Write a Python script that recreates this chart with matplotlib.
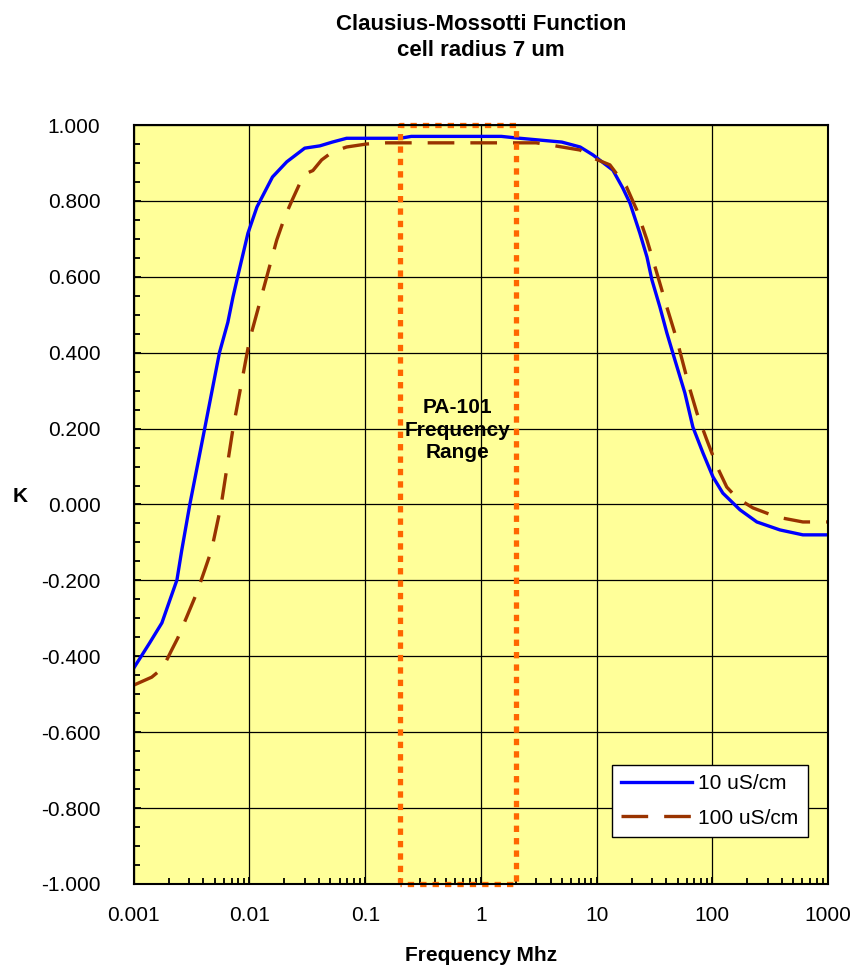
import math
import matplotlib.pyplot as plt
from matplotlib.ticker import FixedLocator, MultipleLocator, FuncFormatter, NullFormatter

plt.rcParams['font.family'] = ['Liberation Sans', 'DejaVu Sans']

# frequency (MHz) and K for 10 uS/cm
freq_10 = [0.001, 0.00137, 0.00175, 0.00205, 0.00236, 0.0026, 0.00305, 0.0041, 0.0055,
           0.0065, 0.0072, 0.0079, 0.0097, 0.0116, 0.0158, 0.021, 0.030, 0.0405, 0.052,
           0.069, 0.2, 0.25, 1.5, 2.0, 5.0, 7.2, 9.3, 13.8, 16.8, 19.4, 23.6, 27.2, 30,
           35.2, 40.4, 47.4, 57.8, 67.8, 82.8, 101, 123, 173, 242, 383, 605, 1000]
k_10 = [-0.431, -0.365, -0.312, -0.252, -0.199, -0.12, 0.0, 0.2, 0.4,
        0.48, 0.547, 0.6, 0.715, 0.784, 0.863, 0.903, 0.939, 0.945, 0.955,
        0.965, 0.965, 0.970, 0.970, 0.966, 0.955, 0.942, 0.921, 0.881, 0.834, 0.794,
        0.715, 0.652, 0.592, 0.52, 0.452, 0.381, 0.294, 0.204, 0.136, 0.073, 0.030,
        -0.014, -0.046, -0.067, -0.080, -0.080]

# frequency (MHz) and K for 100 uS/cm
freq_100 = [0.001, 0.00143, 0.00178, 0.00213, 0.0024, 0.00287, 0.0035, 0.0041, 0.0047,
            0.0057, 0.0072, 0.0100, 0.0116, 0.0141, 0.0172, 0.0202, 0.0232, 0.0272,
            0.0313, 0.0353, 0.042, 0.052, 0.069, 0.103, 0.153, 3.0, 4.0, 7.2, 9.3, 13.0,
            18.1, 22.2, 27.2, 33.1, 40.4, 49.4, 63, 73.5, 89.5, 110, 133, 163, 224, 361,
            605, 1000]
k_100 = [-0.476, -0.455, -0.431, -0.383, -0.352, -0.296, -0.233, -0.173, -0.12,
         0.0, 0.2, 0.433, 0.505, 0.6, 0.697, 0.758, 0.80, 0.846,
         0.873, 0.88, 0.908, 0.929, 0.942, 0.95, 0.953, 0.953, 0.947, 0.934, 0.913, 0.895,
         0.837, 0.776, 0.697, 0.61, 0.52, 0.433, 0.31, 0.241, 0.17, 0.099, 0.046, 0.017,
         -0.009, -0.033, -0.046, -0.046]

# PA-101 frequency range (MHz)
range_lo, range_hi = 0.2, 2.0

x_ticks = [0.001, 0.01, 0.1, 1, 10, 100, 1000]
x_tick_labels = ['0.001', '0.01', '0.1', '1', '10', '100', '1000']

fig = plt.figure(figsize=(8.52, 9.66), dpi=100)
ax = fig.add_axes([0.157, 0.0849, 0.815, 0.7857])
ax.set_facecolor('#FFFF99')

ax.plot(freq_10, k_10, color='#0000FF', lw=2.4, label='10 uS/cm', zorder=4)
ax.plot(freq_100, k_100, color='#993300', lw=2.4, dashes=(8, 4.8), label='100 uS/cm', zorder=4)

# frequency range box
ax.plot([range_lo, range_lo, range_hi, range_hi, range_lo], [-1, 1, 1, -1, -1],
        color='#FF6600', lw=3.8, dashes=(1.2, 1.15), dash_capstyle='butt', zorder=5, clip_on=False)
ax.text(math.sqrt(range_lo * range_hi), 0.196, 'PA-101\nFrequency\nRange', ha='center', va='center',
        fontsize=15, fontweight='bold', linespacing=1.25, zorder=6)

ax.set_xscale('log')
ax.set_xlim(0.001, 1000)
ax.set_ylim(-1, 1)
ax.xaxis.set_major_locator(FixedLocator(x_ticks))
ax.xaxis.set_major_formatter(FuncFormatter(lambda v, p: x_tick_labels[x_ticks.index(v)] if v in x_ticks else ''))
ax.xaxis.set_minor_formatter(NullFormatter())
ax.yaxis.set_major_locator(MultipleLocator(0.2))
ax.yaxis.set_minor_locator(MultipleLocator(0.05))
ax.yaxis.set_major_formatter(FuncFormatter(lambda v, p: '%.3f' % (0.0 if abs(v) < 1e-9 else v)))

ax.grid(True, which='major', color='black', lw=0.9, zorder=1)
ax.set_axisbelow(True)
ax.tick_params(which='both', direction='in', width=1.3, labelsize=15, color='black')
ax.tick_params(which='minor', length=4)
ax.tick_params(axis='x', which='major', length=5, pad=16)
ax.tick_params(axis='y', which='major', length=5, pad=24)
for s in ax.spines.values():
    s.set_linewidth(1.5)
    s.set_zorder(7)

ax.set_xlabel('Frequency Mhz', fontsize=15, fontweight='bold', labelpad=15)
ax.set_ylabel('K', fontsize=15, fontweight='bold', rotation=0, ha='center', va='center')
ax.yaxis.set_label_coords(-0.164, 0.511)
ax.set_title('Clausius-Mossotti Function\ncell radius 7 um', fontsize=16,
             fontweight='bold', pad=50, linespacing=1.3)

leg = ax.legend(loc='lower right', bbox_to_anchor=(0.971, 0.062), fontsize=15, frameon=True,
                fancybox=False, edgecolor='black', framealpha=1, handlelength=3.4,
                borderpad=0.45, labelspacing=0.75, handletextpad=0.3, borderaxespad=0)
leg.get_frame().set_linewidth(1.0)
leg.set_zorder(8)

fig.savefig('out.png', dpi=100)
